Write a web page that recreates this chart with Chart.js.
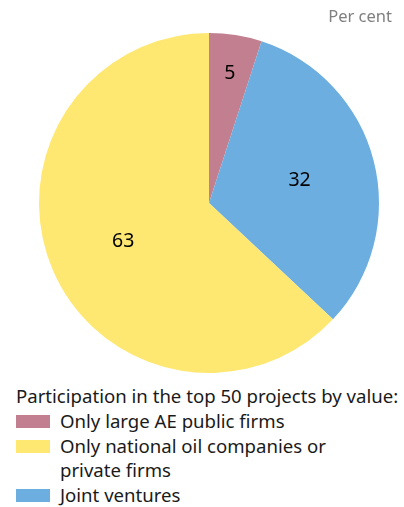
<!DOCTYPE html>
<html lang="en">
<head>
    <meta charset="UTF-8">
    <title>Participation in the top 50 projects</title>
    <script src="https://cdn.jsdelivr.net/npm/chart.js"></script>
    <style>
        body { margin: 0; background: #fff; font-family: "Noto Sans", "Open Sans", sans-serif; }
        .wrap { position: relative; width: 404px; height: 507px; overflow: hidden; }
        .unit { position: absolute; right: 12px; top: 4px; font-size: 16.5px; color: #808080; }
        .legend { position: absolute; left: 16px; top: 384px; font-size: 18.6px; color: #1a1a1a; line-height: 24px; white-space: nowrap; }
        .legend .row { display: flex; align-items: flex-start; margin-top: 1px; }
        .legend .sw { width: 34px; height: 13px; margin-top: 6px; margin-right: 10px; flex: none; }
    </style>
</head>
<body>
<div class="wrap">
    <canvas id="pie" width="404" height="380"></canvas>
    <div class="unit">Per cent</div>
    <div class="legend" id="legend"></div>
</div>
<script>
    // data
    const legendTitle = 'Participation in the top 50 projects by value:';
    const categories = ['Only large AE public firms', 'Only national oil companies or private firms', 'Joint ventures'];
    const legendLines = [['Only large AE public firms'], ['Only national oil companies or', 'private firms'], ['Joint ventures']];
    const values = [5, 63, 32];
    const colours = ['#c27f8f', '#fee872', '#6caee0'];

    // pie order in the picture: 5 then 32 (clockwise) then 63
    const order = [0, 2, 1];

    // legend as html
    const legendDiv = document.getElementById('legend');
    legendDiv.innerHTML = '<div>' + legendTitle + '</div>' +
        categories.map((c, i) => `<div class="row"><span class="sw" style="background:${colours[i]}"></span><span>${legendLines[i].join('<br>')}</span></div>`).join('');

    // value labels drawn in the slices
    const sliceLabels = {
        id: 'sliceLabels',
        afterDatasetsDraw(chart) {
            const ctx = chart.ctx;
            const meta = chart.getDatasetMeta(0);
            ctx.save();
            ctx.font = '19.5px "Noto Sans", sans-serif';
            ctx.fillStyle = '#000';
            ctx.textAlign = 'center';
            ctx.textBaseline = 'middle';
            meta.data.forEach((arc, i) => {
                const val = chart.data.datasets[0].data[i];
                // small slice label sits further out
                const f = val < 10 ? 0.78 : 0.55;
                const mid = (arc.startAngle + arc.endAngle) / 2;
                const x = arc.x + Math.cos(mid) * arc.outerRadius * f;
                const y = arc.y + Math.sin(mid) * arc.outerRadius * f;
                ctx.fillText(String(val), x, y + 1);
            });
            ctx.restore();
        }
    };

    new Chart(document.getElementById('pie'), {
        type: 'pie',
        data: {
            labels: order.map(i => categories[i]),
            datasets: [{
                data: order.map(i => values[i]),
                backgroundColor: order.map(i => colours[i]),
                borderWidth: 0
            }]
        },
        options: {
            responsive: false,
            animation: false,
            layout: { padding: { top: 33, bottom: 7, left: 39, right: 25 } },
            plugins: {
                legend: { display: false },
                tooltip: { enabled: false }
            }
        },
        plugins: [sliceLabels]
    });
</script>
</body>
</html>
